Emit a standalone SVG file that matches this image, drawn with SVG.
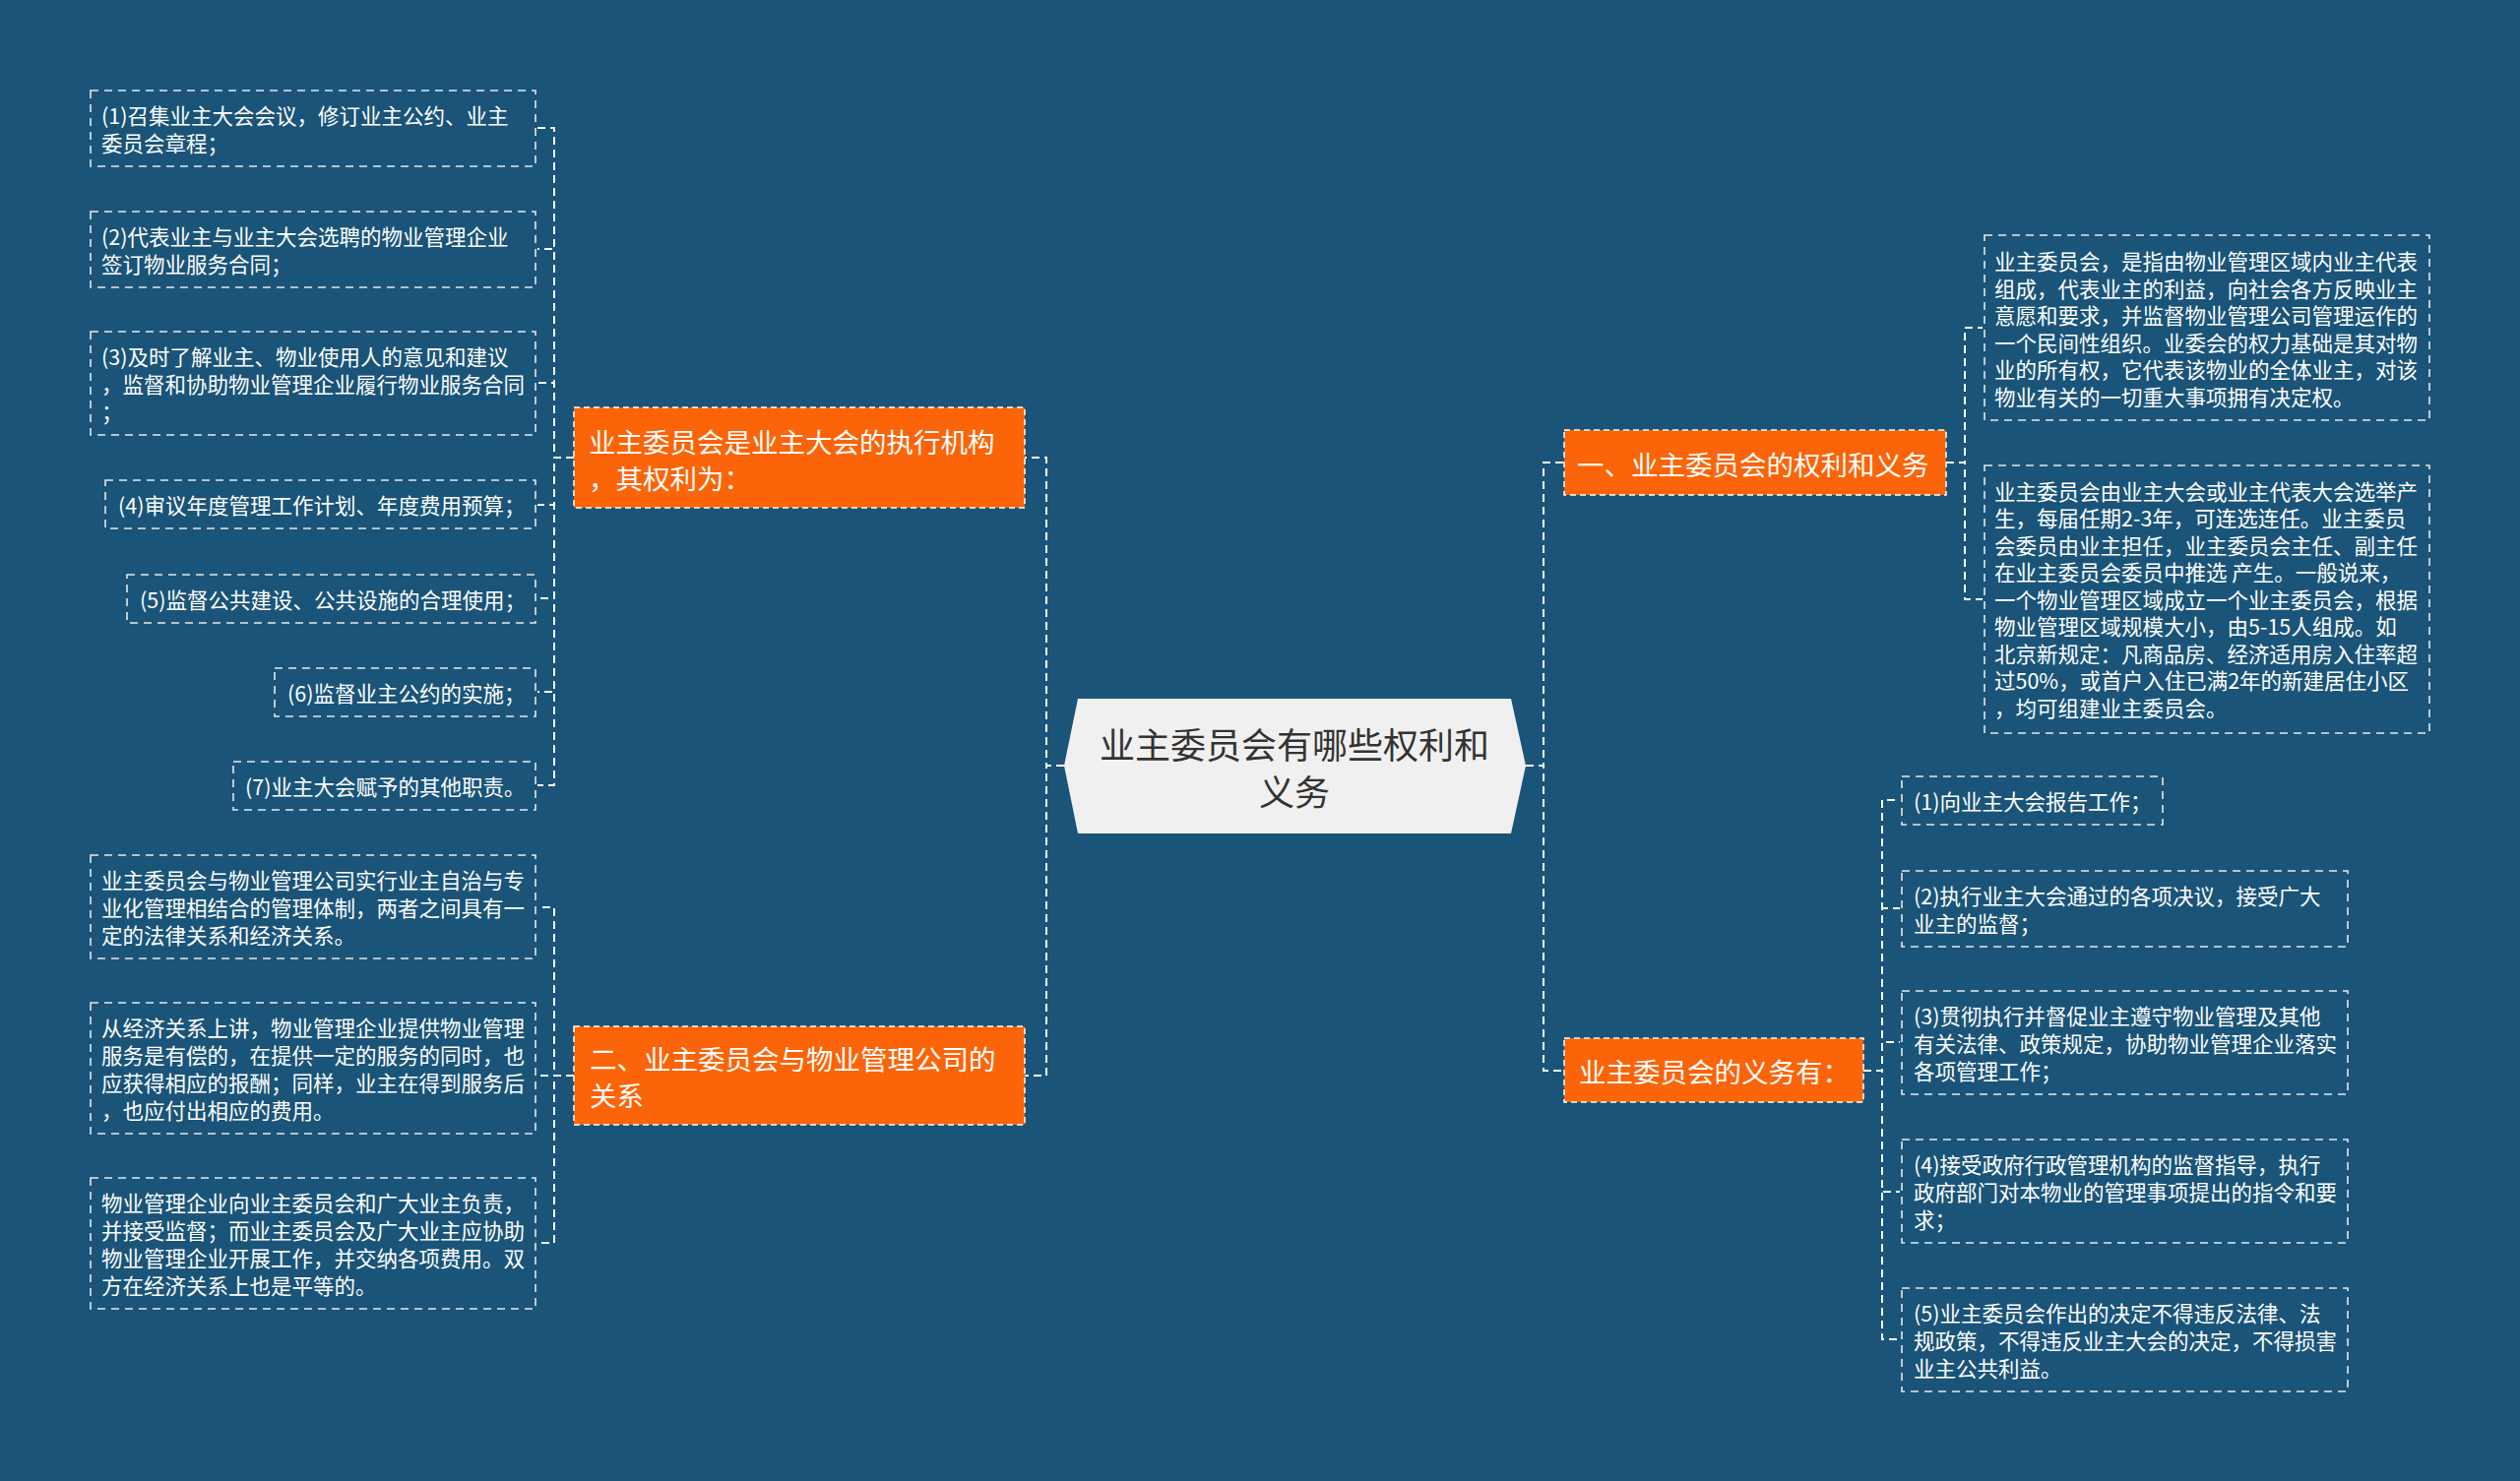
<svg xmlns="http://www.w3.org/2000/svg" width="2560" height="1505" viewBox="0 0 2560 1505">
<style>
.bg{fill:#1a5478}
.conn{fill:none;stroke:#ffffff;stroke-width:2;stroke-dasharray:8 5}
.leaf{fill:none;stroke:#e8e8e8;stroke-width:1.6;stroke-dasharray:8 6}
.branch{fill:#fb6408;stroke:#ffffff;stroke-width:1.5;stroke-dasharray:6 4}
.center{fill:#f0f0f0}
text{font-family:"Noto Sans CJK SC","Microsoft YaHei",sans-serif;dominant-baseline:central}
.lt{fill:#ffffff;font-size:21.5px}
.bt{fill:#ffffff;font-size:27.5px}
.ct{fill:#333333;font-size:36px}
</style>
<rect class="bg" x="0" y="0" width="2560" height="1505"/>

<g id="connectors">
<path class="conn" d="M1081,778 H1063 V465 H1041"/>
<path class="conn" d="M1081,778 H1063 V1093 H1041"/>
<path class="conn" d="M1550,778 H1568 V470 H1589"/>
<path class="conn" d="M1550,778 H1568 V1088 H1589"/>
<path class="conn" d="M583,465 H563 V130 H546"/>
<path class="conn" d="M583,465 H563 V253 H546"/>
<path class="conn" d="M583,465 H563 V389 H546"/>
<path class="conn" d="M583,465 H563 V513 H546"/>
<path class="conn" d="M583,465 H563 V608 H546"/>
<path class="conn" d="M583,465 H563 V703 H546"/>
<path class="conn" d="M583,465 H563 V798 H546"/>
<path class="conn" d="M583,1093 H563 V922 H546"/>
<path class="conn" d="M583,1093 H563 V1093 H546"/>
<path class="conn" d="M583,1093 H563 V1263 H546"/>
<path class="conn" d="M1977,470 H1996 V333 H2014"/>
<path class="conn" d="M1977,470 H1996 V609 H2014"/>
<path class="conn" d="M1893,1088 H1912 V813 H1930"/>
<path class="conn" d="M1893,1088 H1912 V923 H1930"/>
<path class="conn" d="M1893,1088 H1912 V1059 H1930"/>
<path class="conn" d="M1893,1088 H1912 V1211 H1930"/>
<path class="conn" d="M1893,1088 H1912 V1361 H1930"/>
</g>

<g id="center">
<polygon class="center" points="1095,710 1535,710 1550,778 1535,847 1095,847 1081,778"/>
<text class="ct" x="1315" y="755" text-anchor="middle">业主委员会有哪些权利和</text>
<text class="ct" x="1315" y="803" text-anchor="middle">义务</text>
</g>

<g id="node-l1">
<rect class="branch" x="583" y="414" width="458" height="102"/>
<text class="bt" x="598" y="448">业主委员会是业主大会的执行机构</text>
<text class="bt" x="598" y="485">，其权利为：</text>
</g>
<g id="node-l1-c1">
<rect class="leaf" x="92" y="92" width="452" height="77"/>
<text class="lt" x="103" y="116.5">(1)召集业主大会会议，修订业主公约、业主</text>
<text class="lt" x="103" y="144.5">委员会章程；</text>
</g>
<g id="node-l1-c2">
<rect class="leaf" x="92" y="215" width="452" height="77"/>
<text class="lt" x="103" y="239.5">(2)代表业主与业主大会选聘的物业管理企业</text>
<text class="lt" x="103" y="267.5">签订物业服务合同；</text>
</g>
<g id="node-l1-c3">
<rect class="leaf" x="92" y="337" width="452" height="105"/>
<text class="lt" x="103" y="361.5">(3)及时了解业主、物业使用人的意见和建议</text>
<text class="lt" x="103" y="389.5">，监督和协助物业管理企业履行物业服务合同</text>
<text class="lt" x="103" y="417.5">；</text>
</g>
<g id="node-l1-c4">
<rect class="leaf" x="107" y="488" width="437" height="49"/>
<text class="lt" x="120" y="512.5">(4)审议年度管理工作计划、年度费用预算；</text>
</g>
<g id="node-l1-c5">
<rect class="leaf" x="129" y="584" width="415" height="49"/>
<text class="lt" x="142" y="608.5">(5)监督公共建设、公共设施的合理使用；</text>
</g>
<g id="node-l1-c6">
<rect class="leaf" x="279" y="679" width="265" height="49"/>
<text class="lt" x="292" y="703.5">(6)监督业主公约的实施；</text>
</g>
<g id="node-l1-c7">
<rect class="leaf" x="237" y="774" width="307" height="49"/>
<text class="lt" x="249" y="798.5">(7)业主大会赋予的其他职责。</text>
</g>

<g id="node-l2">
<rect class="branch" x="583" y="1043" width="458" height="100"/>
<text class="bt" x="599" y="1075">二、业主委员会与物业管理公司的</text>
<text class="bt" x="599" y="1112">关系</text>
</g>
<g id="node-l2-c1">
<rect class="leaf" x="92" y="869" width="452" height="105"/>
<text class="lt" x="103" y="893.5">业主委员会与物业管理公司实行业主自治与专</text>
<text class="lt" x="103" y="921.5">业化管理相结合的管理体制，两者之间具有一</text>
<text class="lt" x="103" y="949.5">定的法律关系和经济关系。</text>
</g>
<g id="node-l2-c2">
<rect class="leaf" x="92" y="1019" width="452" height="133"/>
<text class="lt" x="103" y="1043.5">从经济关系上讲，物业管理企业提供物业管理</text>
<text class="lt" x="103" y="1071.5">服务是有偿的，在提供一定的服务的同时，也</text>
<text class="lt" x="103" y="1099.5">应获得相应的报酬；同样，业主在得到服务后</text>
<text class="lt" x="103" y="1127.5">，也应付出相应的费用。</text>
</g>
<g id="node-l2-c3">
<rect class="leaf" x="92" y="1197" width="452" height="133"/>
<text class="lt" x="103" y="1221.5">物业管理企业向业主委员会和广大业主负责，</text>
<text class="lt" x="103" y="1249.5">并接受监督；而业主委员会及广大业主应协助</text>
<text class="lt" x="103" y="1277.5">物业管理企业开展工作，并交纳各项费用。双</text>
<text class="lt" x="103" y="1305.5">方在经济关系上也是平等的。</text>
</g>

<g id="node-r1">
<rect class="branch" x="1589" y="437" width="388" height="66"/>
<text class="bt" x="1602" y="471">一、业主委员会的权利和义务</text>
</g>
<g id="node-r1-c1">
<rect class="leaf" x="2016" y="239" width="452" height="188"/>
<text class="lt" x="2026" y="264.5">业主委员会，是指由物业管理区域内业主代表</text>
<text class="lt" x="2026" y="292">组成，代表业主的利益，向社会各方反映业主</text>
<text class="lt" x="2026" y="319.5">意愿和要求，并监督物业管理公司管理运作的</text>
<text class="lt" x="2026" y="347">一个民间性组织。业委会的权力基础是其对物</text>
<text class="lt" x="2026" y="374.5">业的所有权，它代表该物业的全体业主，对该</text>
<text class="lt" x="2026" y="402">物业有关的一切重大事项拥有决定权。</text>
</g>
<g id="node-r1-c2">
<rect class="leaf" x="2016" y="473" width="452" height="272"/>
<text class="lt" x="2026" y="498">业主委员会由业主大会或业主代表大会选举产</text>
<text class="lt" x="2026" y="525.5">生，每届任期2-3年，可连选连任。业主委员</text>
<text class="lt" x="2026" y="553">会委员由业主担任，业主委员会主任、副主任</text>
<text class="lt" x="2026" y="580.5">在业主委员会委员中推选 产生。一般说来，</text>
<text class="lt" x="2026" y="608">一个物业管理区域成立一个业主委员会，根据</text>
<text class="lt" x="2026" y="635.5">物业管理区域规模大小，由5-15人组成。如</text>
<text class="lt" x="2026" y="663">北京新规定：凡商品房、经济适用房入住率超</text>
<text class="lt" x="2026" y="690.5">过50%，或首户入住已满2年的新建居住小区</text>
<text class="lt" x="2026" y="718">，均可组建业主委员会。</text>
</g>

<g id="node-r2">
<rect class="branch" x="1589" y="1055" width="304" height="65"/>
<text class="bt" x="1604" y="1088">业主委员会的义务有：</text>
</g>
<g id="node-r2-c1">
<rect class="leaf" x="1932" y="789" width="265" height="49"/>
<text class="lt" x="1944" y="813.5">(1)向业主大会报告工作；</text>
</g>
<g id="node-r2-c2">
<rect class="leaf" x="1932" y="885" width="453" height="77"/>
<text class="lt" x="1944" y="909.5">(2)执行业主大会通过的各项决议，接受广大</text>
<text class="lt" x="1944" y="937.5">业主的监督；</text>
</g>
<g id="node-r2-c3">
<rect class="leaf" x="1932" y="1007" width="453" height="105"/>
<text class="lt" x="1944" y="1031.5">(3)贯彻执行并督促业主遵守物业管理及其他</text>
<text class="lt" x="1944" y="1059.5">有关法律、政策规定，协助物业管理企业落实</text>
<text class="lt" x="1944" y="1087.5">各项管理工作；</text>
</g>
<g id="node-r2-c4">
<rect class="leaf" x="1932" y="1158" width="453" height="105"/>
<text class="lt" x="1944" y="1182.5">(4)接受政府行政管理机构的监督指导，执行</text>
<text class="lt" x="1944" y="1210.5">政府部门对本物业的管理事项提出的指令和要</text>
<text class="lt" x="1944" y="1238.5">求；</text>
</g>
<g id="node-r2-c5">
<rect class="leaf" x="1932" y="1309" width="453" height="105"/>
<text class="lt" x="1944" y="1333.5">(5)业主委员会作出的决定不得违反法律、法</text>
<text class="lt" x="1944" y="1361.5">规政策，不得违反业主大会的决定，不得损害</text>
<text class="lt" x="1944" y="1389.5">业主公共利益。</text>
</g>
</svg>
